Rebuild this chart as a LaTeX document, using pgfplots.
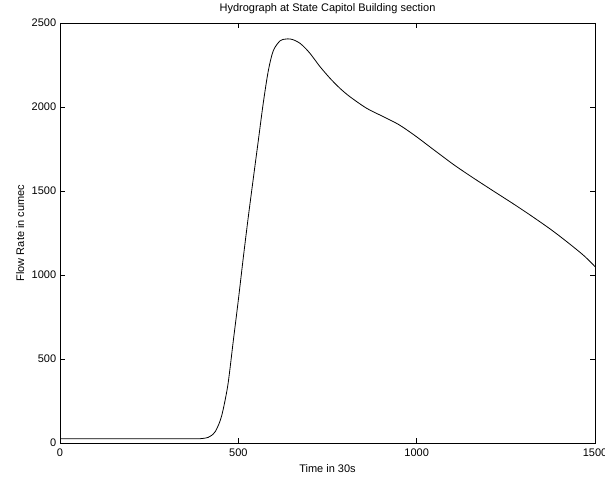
\documentclass[border=0pt]{standalone}
\usepackage{fontspec}
\setmainfont{Liberation Sans}
\usepackage{pgfplots}
\pgfplotsset{compat=1.18}
\begin{document}
\fontsize{11bp}{13bp}\selectfont
\begin{tikzpicture}
  \begin{axis}[
    name=ax,
    scale only axis,
    width=535bp, height=420bp,
    xmin=0, xmax=1500, ymin=0, ymax=2500,
    xtick={0,500,1000,1500}, ytick={0,500,1000,1500,2000,2500},
    /pgf/number format/assume math mode=true,
    /pgf/number format/1000 sep={},
    tick label style={font=\fontsize{11bp}{13bp}\selectfont},
    label style={font=\fontsize{11bp}{13bp}\selectfont},
    tick align=inside, major tick length=5bp,
    axis line style={line width=0.9bp},
    every tick/.style={black, line width=0.6bp},
    xticklabel style={yshift=-2bp},
    title={Hydrograph at State Capitol Building section},
    every axis title/.style={at={(0.5,1)}, anchor=base, inner sep=0pt, yshift=11bp,
      font=\fontsize{11bp}{13bp}\selectfont},
    xlabel={Time in 30s},
    ylabel={Flow Rate in cumec},
    every axis x label/.style={at={(0.5,0)}, anchor=base, inner sep=0pt, yshift=-29bp},
    every axis y label/.style={at={(axis description cs:-0.0665,0.5)}, rotate=90,
      anchor=south, inner sep=0pt},
  ]
    \addplot[black, line width=0.8bp, smooth, tension=0.5] coordinates {
      (0,25) (100,25) (200,25) (300,25) (380,25) (400,27) (415,33) (425,45)
      (435,67) (445,110) (453,160) (462,245) (472,365) (486,610) (500,851)
      (514,1105) (528,1347) (542,1575) (556,1800) (570,2025) (584,2215)
      (598,2335) (617,2394) (632,2404) (645,2405) (659,2396) (673,2379)
      (687,2352) (701,2319) (715,2280) (729,2240) (757,2171) (785,2111)
      (813,2061) (860,1992) (907,1942) (950,1895) (995,1830) (1050,1742)
      (1105,1655) (1160,1576) (1215,1500) (1270,1425) (1325,1347)
      (1380,1265) (1430,1183) (1470,1113) (1500,1050)
    };
  \end{axis}
  \pgfresetboundingbox
  \path (ax.south west) ++(-60bp,-35bp) rectangle ++(605bp,478bp);
\end{tikzpicture}
\end{document}
